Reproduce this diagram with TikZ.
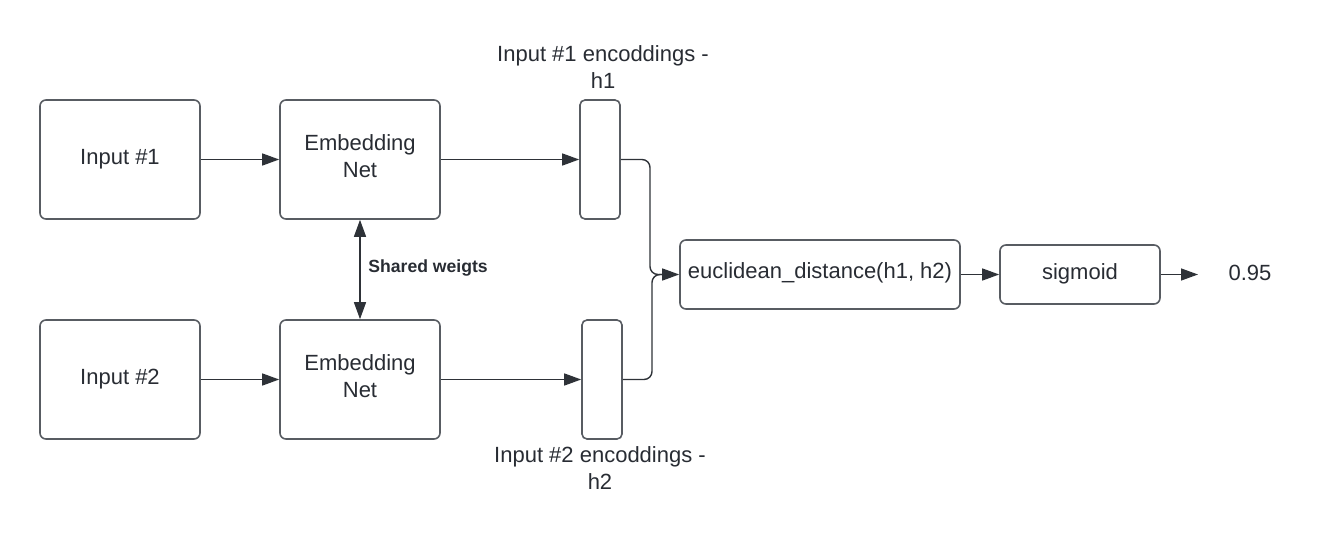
\documentclass[tikz,border=0pt]{standalone}
\usepackage{fontspec}
\setmainfont{Liberation Sans}
\usetikzlibrary{arrows.meta}
\definecolor{txt}{HTML}{282C33}
\definecolor{bord}{HTML}{585C62}
\definecolor{arrc}{HTML}{2E3238}
\tikzset{
  box/.style={draw=bord, line width=0.8pt, rounded corners=3pt, text=txt,
    font=\fontsize{11pt}{13.5pt}\selectfont, align=center, inner sep=0pt},
  tip/.style={Triangle[length=8.5pt,width=6pt]},
  arr/.style={draw=arrc, line width=0.7pt, -{Triangle[length=8.5pt,width=6pt]}},
  dbl/.style={draw=arrc, line width=0.7pt, {Triangle[length=8.5pt,width=6pt]}-{Triangle[length=8.5pt,width=6pt]}},
  lbl/.style={text=txt, font=\fontsize{11pt}{13.5pt}\selectfont, align=center, inner sep=0pt},
  blbl/.style={text=txt, font=\fontsize{8.8pt}{10pt}\selectfont\bfseries, inner sep=0pt}
}
\begin{document}
\begin{tikzpicture}[x=0.5pt,y=-0.5pt]
\useasboundingbox (0,0) rectangle (1340,540);
% boxes
\node[box, minimum width=80pt, minimum height=59.5pt] (in1) at (120,159.5) {};
\node[lbl] (in1t) at (120,159) {Input \#1};
\node[box, minimum width=80pt, minimum height=59.5pt] (emb1) at (360,159.5) {};
\node[lbl] (emb1t) at (360,156.5) {Embedding\\Net};
\node[box, minimum width=80pt, minimum height=59.5pt] (in2) at (120,379.5) {};
\node[lbl] (in2t) at (120,379) {Input \#2};
\node[box, minimum width=80pt, minimum height=59.5pt] (emb2) at (360,379.5) {};
\node[lbl] (emb2t) at (360,376.5) {Embedding\\Net};
\node[box, rounded corners=2.5pt, minimum width=20pt, minimum height=59.5pt] (h1) at (600,159.5) {};
\node[box, rounded corners=2.5pt, minimum width=20pt, minimum height=59.5pt] (h2) at (602,379.5) {};
\node[box, minimum width=140pt, minimum height=34.5pt] (euc) at (820,274.5) {};
\node[lbl] (euct) at (820,273) {euclidean\_distance(h1, h2)};
\node[box, minimum width=80pt, minimum height=29.5pt] (sig) at (1080,274.5) {};
\node[lbl] (sigt) at (1080,273.5) {sigmoid};
\node[lbl] (out) at (1250,273) {0.95};
\coordinate (outa) at (1198,274.5);
% labels
\node[lbl] (l1) at (603,67) {Input \#1 encoddings -\\h1};
\node[lbl] (l2) at (600,468) {Input \#2 encoddings -\\h2};
\node[blbl, anchor=west] (sw) at (368,268) {Shared weigts};
% connectors
\draw[arr] (in1.east) -- (emb1.west);
\draw[arr] (in2.east) -- (emb2.west);
\draw[arr] (emb1.east) -- (h1.west);
\draw[arr] (emb2.east) -- (emb2.east -| h2.west);
\draw[dbl] (emb1.south) -- (emb2.north);
\draw[arr, rounded corners=4pt] (h1.east) -- (650,159.5) -- (650,274.5) -- (euc.west);
\draw[draw=arrc, line width=0.7pt, rounded corners=4pt] (h2.east) -- (652,379.5) -- (652,274.5) -- (662,274.5);
\draw[arr] (euc.east) -- (sig.west);
\draw[arr] (sig.east) -- (outa);
\end{tikzpicture}
\end{document}
